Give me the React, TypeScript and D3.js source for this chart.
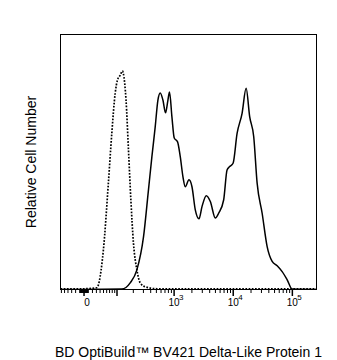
import React from "react";
import * as d3 from "d3";

// Isotype control (dotted) – fluorescence values and % of max
const isoX = [-63, 0, 31, 49.6, 65.8, 78.4, 92, 102, 116, 127, 132, 148, 164, 181, 201, 231, 264, 322, 511, 2773, 256000];
const isoY = [0.3, 0.3, 0.7, 15.5, 41.8, 61.4, 77.0, 82.1, 84.1, 85.7, 84.8, 74.3, 54.7, 35.1, 18.3, 7.7, 2.6, 1.06, 0.3, 0.3, 0.3];

// Stained sample (solid)
const stainX = [-63, 124, 176, 231, 301, 366, 419, 477, 531, 581, 646, 715, 786, 836, 918, 1005, 1144, 1271, 1412, 1545, 1785, 2006, 2283, 2637, 2964, 3506, 4099, 4983, 5668, 6888, 7866, 8706, 9942, 11622, 14125, 16514, 19004, 22218, 25368, 30830, 37470, 45540, 55350, 67260, 81750, 99360, 256000];
const stainY = [0, 0.16, 2.6, 7.7, 20.6, 39.0, 52.0, 63.7, 74.3, 77.1, 74.3, 69.3, 74.3, 77.5, 67.7, 59.4, 57.9, 52.1, 44.2, 40.3, 43.0, 40.3, 31.2, 27.7, 32.5, 36.8, 34.5, 28.0, 29.9, 35.1, 46.9, 48.2, 49.5, 61.2, 69.1, 78.9, 67.7, 59.9, 41.7, 29.9, 16.8, 11.0, 9.3, 7.0, 3.8, 0.16, 0];

const majorTicks = [0, 100, 1000, 10000, 100000];
const labelTicks = [
  { v: 0, base: "0", exp: "" },
  { v: 1000, base: "10", exp: "3" },
  { v: 10000, base: "10", exp: "4" },
  { v: 100000, base: "10", exp: "5" },
];
const xTitle = "BD OptiBuild™ BV421 Delta-Like Protein 1";
const yTitle = "Relative Cell Number";

const W = 337, H = 360;
const left = 60.5, right = 316.5, top = 34.5, bottom = 289.5;
const C = 30;
const tf = (v: number) => Math.asinh(v / (2 * C)) / Math.LN10;
const xLin = d3.scaleLinear().domain([tf(-63), tf(256000)]).range([left, right]);
const xs = (v: number) => xLin(tf(v));
const ys = d3.scaleLinear().domain([0, 100]).range([bottom, top]);

const minorTicks: number[] = [];
for (let i = 1; i <= 9; i++) minorTicks.push(i, -i);
for (let i = 1; i <= 6; i++) minorTicks.push(-10 * i);
for (let i = 1; i <= 9; i++) minorTicks.push(10 * i);
for (let d = 100; d <= 10000; d *= 10) for (let i = 2; i <= 9; i++) minorTicks.push(d * i);

const font = "'Liberation Sans', Arial, sans-serif";

export default function App() {
  const line = d3.line<[number, number]>().x(d => xs(d[0])).y(d => ys(d[1])).curve(d3.curveMonotoneX);
  const iso = isoX.map((x, i) => [x, isoY[i]] as [number, number]);
  const stain = stainX.map((x, i) => [x, stainY[i]] as [number, number]);
  return (
    <svg width={W} height={H} style={{ position: "absolute", left: 0, top: 0, background: "#fff" }}>
      <defs>
        <clipPath id="plot"><rect x={left} y={top - 2} width={right - left} height={bottom - top + 2} /></clipPath>
      </defs>
      <g clipPath="url(#plot)">
        <path d={line(iso) || ""} fill="none" stroke="#000" strokeWidth={1.7} strokeDasharray="1.7,1.5" />
        <path d={line(stain) || ""} fill="none" stroke="#000" strokeWidth={1.5} />
      </g>
      <rect x={left} y={top} width={right - left} height={bottom - top} fill="none" stroke="#000" strokeWidth={1} />
      {minorTicks.map((t, i) => (
        <line key={"m" + i} x1={xs(t)} x2={xs(t)} y1={bottom} y2={bottom + 3.5} stroke="#000" strokeWidth={1} />
      ))}
      {majorTicks.map((t, i) => (
        <line key={"M" + i} x1={xs(t)} x2={xs(t)} y1={bottom} y2={bottom + 6.5} stroke="#000" strokeWidth={1.5} />
      ))}
      {labelTicks.map((t, i) => (
        <g key={"l" + i} fontFamily={font} fill="#000">
          <text x={xs(t.v) + (t.exp ? 0 : 3)} y={306} fontSize={10} textAnchor="middle">{t.base}</text>
          {t.exp && <text x={xs(t.v) + 5} y={300} fontSize={8}>{t.exp}</text>}
        </g>
      ))}
      <text x={(left + right) / 2} y={357} fontSize={14} fontFamily={font} textAnchor="middle">{xTitle}</text>
      <text transform={`translate(35.5,${(top + bottom) / 2}) rotate(-90)`} fontSize={14} fontFamily={font} textAnchor="middle">{yTitle}</text>
    </svg>
  );
}
